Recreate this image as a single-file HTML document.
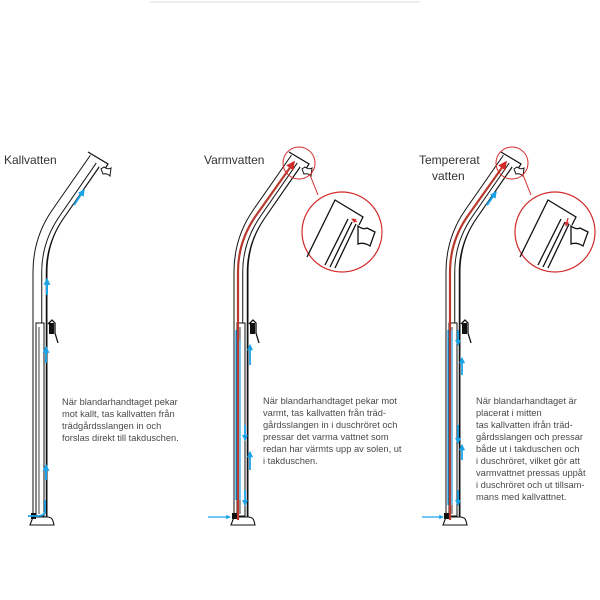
<!DOCTYPE html>
<html><head><meta charset="utf-8"><style>
html,body{margin:0;padding:0;background:#fff;}
svg{display:block;}
text{font-family:"Liberation Sans",sans-serif;fill:#4a4a4a;}
.t{font-size:9.3px;}
.h{font-size:12px;fill:#333;}
</style></head><body>
<svg width="600" height="600" viewBox="0 0 600 600" xmlns="http://www.w3.org/2000/svg">
<defs>
<g id="pipe">
  <path d="M40,520 L40,272 Q40,240 58,214 L97,158" fill="none" stroke="#111" stroke-width="15"/>
  <path d="M40,521 L40,272 Q40,240 58,214 L97,158" fill="none" stroke="#fff" stroke-width="13"/>
  <path d="M44,520 L44,272 Q44,243 61,218 L99,163" fill="none" stroke="#111" stroke-width="5.5"/>
  <path d="M44,521 L44,272 Q44,243 61,218 L99,163" fill="none" stroke="#fff" stroke-width="3.5"/>
  <path d="M88,152 L108,164 L103,172" fill="#fff" stroke="#111" stroke-width="1.2"/>
  <path d="M101,169 L104,167 Q108,170 111,168 L110,176 Q107,173 103,174 Z" fill="#fff" stroke="#111" stroke-width="1"/>
  <rect x="36" y="323" width="8" height="193" fill="#fff" stroke="#111" stroke-width="1"/>
  <line x1="39" y1="327" x2="39" y2="514" stroke="#111" stroke-width="0.8"/>
  <path d="M48,324 L52,320 L55,323 L55,333 L58,343" fill="none" stroke="#111" stroke-width="1.3"/>
  <rect x="49" y="323" width="5" height="11" fill="#111"/>
  <path d="M30,525 L33,517 L47,517 Q52,517 53,521 L54,525 Z" fill="#fff" stroke="#111" stroke-width="1.1"/>
  <rect x="31" y="513" width="5" height="6" fill="#111"/>
</g>
<marker id="ab" viewBox="0 0 6 6" refX="5" refY="3" markerWidth="3.5" markerHeight="3.5" orient="auto"><path d="M0,0 L6,3 L0,6 Z" fill="#1ba3e8"/></marker>
<marker id="ar" viewBox="0 0 6 6" refX="5" refY="3" markerWidth="4" markerHeight="4" orient="auto"><path d="M0,0 L6,3 L0,6 Z" fill="#d42a2a"/></marker>
</defs>

<line x1="150" y1="2" x2="420" y2="2" stroke="#eee" stroke-width="2"/>

<!-- Panel 1 -->
<text class="h" x="4" y="164">Kallvatten</text>
<use href="#pipe"/>
<line x1="74" y1="205" x2="84" y2="190" stroke="#1ba3e8" stroke-width="2" marker-end="url(#ab)"/>
<line x1="47" y1="295" x2="47" y2="279" stroke="#1ba3e8" stroke-width="2" marker-end="url(#ab)"/>
<line x1="46" y1="363" x2="46" y2="347" stroke="#1ba3e8" stroke-width="2" marker-end="url(#ab)"/>
<line x1="46" y1="480" x2="46" y2="465" stroke="#1ba3e8" stroke-width="2" marker-end="url(#ab)"/>
<path d="M45,500 L45,512 Q44,516 38,516 L28,516" fill="none" stroke="#1ba3e8" stroke-width="1.8"/>
<text class="t" x="62" y="405">När blandarhandtaget pekar</text>
<text class="t" x="62" y="417">mot kallt, tas kallvatten från</text>
<text class="t" x="62" y="429">trädgårdsslangen in och</text>
<text class="t" x="62" y="441">forslas direkt till takduschen.</text>

<!-- Panel 2 -->
<text class="h" x="204" y="164">Varmvatten</text>
<g transform="translate(201,0)"><use href="#pipe"/></g>
<path d="M238,520 L238,272 Q238,242 255,217 L294,162" fill="none" stroke="#b8392d" stroke-width="2.2" marker-end="url(#ar)"/>
<line x1="240" y1="340" x2="240" y2="500" stroke="#1ba3e8" stroke-width="1.2"/>
<line x1="236" y1="330" x2="236" y2="500" stroke="#1ba3e8" stroke-width="1.3"/>
<line x1="250" y1="365" x2="250" y2="345" stroke="#1ba3e8" stroke-width="1.8" marker-end="url(#ab)"/>
<line x1="250" y1="470" x2="250" y2="452" stroke="#1ba3e8" stroke-width="1.8" marker-end="url(#ab)"/>
<line x1="245" y1="425" x2="245" y2="440" stroke="#1ba3e8" stroke-width="1.8" marker-end="url(#ab)"/>
<line x1="245" y1="490" x2="245" y2="505" stroke="#1ba3e8" stroke-width="1.8" marker-end="url(#ab)"/>
<line x1="208" y1="517" x2="230" y2="517" stroke="#1ba3e8" stroke-width="1.3" marker-end="url(#ab)"/>
<circle cx="299" cy="163" r="16" fill="none" stroke="#d42a2a" stroke-width="1"/>
<line x1="310" y1="175" x2="318" y2="195" stroke="#d42a2a" stroke-width="1"/>
<circle cx="342" cy="232" r="40" fill="#fff" stroke="#d42a2a" stroke-width="1.2"/>
<g stroke="#111" stroke-width="1.3" fill="none">
  <path d="M307,257 L335,200 L363,217 L359,225"/>
  <line x1="325" y1="265" x2="348" y2="219"/>
  <line x1="330" y1="267" x2="352" y2="222"/>
  <line x1="335" y1="268" x2="356" y2="224"/>
  <path d="M358,226 Q363,230 367,228 L375,232 L370,246 Q364,242 358,244 Z" fill="#fff"/>
</g>
<line x1="357" y1="222" x2="352" y2="219" stroke="#d42a2a" stroke-width="1.2" marker-end="url(#ar)"/>
<text class="t" x="263" y="404">När blandarhandtaget pekar mot</text>
<text class="t" x="263" y="416">varmt, tas kallvatten från träd-</text>
<text class="t" x="263" y="428">gårdsslangen in i duschröret och</text>
<text class="t" x="263" y="440">pressar det varma vattnet som</text>
<text class="t" x="263" y="452">redan har värmts upp av solen, ut</text>
<text class="t" x="263" y="464">i takduschen.</text>

<!-- Panel 3 -->
<text class="h" x="419" y="164">Tempererat</text>
<text class="h" x="432" y="180">vatten</text>
<g transform="translate(413,0)"><use href="#pipe"/></g>
<path d="M450,520 L450,272 Q450,242 467,217 L506,162" fill="none" stroke="#b8392d" stroke-width="2.2" marker-end="url(#ar)"/>
<line x1="487" y1="205" x2="496" y2="192" stroke="#1ba3e8" stroke-width="2" marker-end="url(#ab)"/>
<line x1="452" y1="330" x2="452" y2="505" stroke="#1ba3e8" stroke-width="1.2"/>
<line x1="448" y1="330" x2="448" y2="505" stroke="#1ba3e8" stroke-width="1.3"/>
<line x1="458" y1="330" x2="458" y2="345" stroke="#1ba3e8" stroke-width="1.8" marker-end="url(#ab)"/>
<line x1="462" y1="375" x2="462" y2="358" stroke="#1ba3e8" stroke-width="1.8" marker-end="url(#ab)"/>
<line x1="458" y1="425" x2="458" y2="443" stroke="#1ba3e8" stroke-width="1.8" marker-end="url(#ab)"/>
<line x1="462" y1="460" x2="462" y2="445" stroke="#1ba3e8" stroke-width="1.8" marker-end="url(#ab)"/>
<line x1="458" y1="490" x2="458" y2="505" stroke="#1ba3e8" stroke-width="1.8" marker-end="url(#ab)"/>
<line x1="422" y1="517" x2="443" y2="517" stroke="#1ba3e8" stroke-width="1.3" marker-end="url(#ab)"/>
<circle cx="512" cy="163" r="16" fill="none" stroke="#d42a2a" stroke-width="1"/>
<line x1="523" y1="175" x2="531" y2="195" stroke="#d42a2a" stroke-width="1"/>
<circle cx="555" cy="232" r="40" fill="#fff" stroke="#d42a2a" stroke-width="1.2"/>
<g stroke="#111" stroke-width="1.3" fill="none">
  <path d="M520,257 L548,200 L576,217 L572,225"/>
  <line x1="538" y1="265" x2="561" y2="219"/>
  <line x1="543" y1="267" x2="565" y2="222"/>
  <line x1="548" y1="268" x2="569" y2="224"/>
  <path d="M571,226 Q576,230 580,228 L588,232 L583,246 Q577,242 571,244 Z" fill="#fff"/>
</g>
<line x1="568" y1="218" x2="566" y2="226" stroke="#d42a2a" stroke-width="1.2" marker-end="url(#ar)"/>
<text class="t" x="476" y="404">När blandarhandtaget är</text>
<text class="t" x="476" y="416">placerat i mitten</text>
<text class="t" x="476" y="428">tas kallvatten ifrån träd-</text>
<text class="t" x="476" y="440">gårdsslangen och pressar</text>
<text class="t" x="476" y="452">både ut i takduschen och</text>
<text class="t" x="476" y="464">i duschröret, vilket gör att</text>
<text class="t" x="476" y="476">varmvattnet pressas uppåt</text>
<text class="t" x="476" y="488">i duschröret och ut tillsam-</text>
<text class="t" x="476" y="500">mans med kallvattnet.</text>
</svg>
</body></html>
